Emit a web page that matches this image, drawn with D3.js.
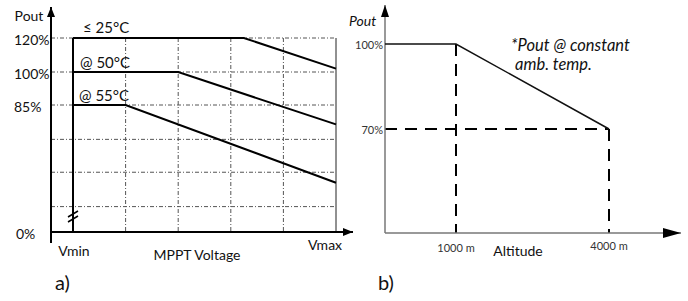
<!DOCTYPE html>
<html lang="en">
<head>
<meta charset="utf-8">
<title>Derating curves</title>
<script src="https://cdn.jsdelivr.net/npm/d3@7"></script>
<style>
  body { margin: 0; background: #fff; }
  text { font-family: Lato, "Open Sans", sans-serif; fill: #111; }
</style>
</head>
<body>
<script>
// ---- data, panel a (MPPT voltage, as fraction Vmin..Vmax) ----
var gridV = [0.2, 0.4, 0.6, 0.8];
var gridP = [120, 100, 85, 62, 40, 17];
var tickP = [120, 100, 85, 0];
var tickPLabels = ["120%", "100%", "85%", "0%"];
var curveNames = ["\u2264 25\u00B0C", "@ 50\u00B0C", "@ 55\u00B0C"];
var curve25 = [[0, 120], [0.65, 120], [1, 102]];
var curve50 = [[0, 100], [0.4, 100], [1, 72]];
var curve55 = [[0, 85], [0.2, 85], [1, 33]];

// ---- data, panel b (altitude) ----
var altTicks = [1000, 4000];
var altLabels = ["1000 m", "4000 m"];
var pTicksB = [100, 70];
var pLabelsB = ["100%", "70%"];
var curveAlt = [[0, 100], [1000, 100], [4000, 70]];

var svg = d3.select("body").append("svg")
  .attr("width", 688).attr("height", 301);

var defs = svg.append("defs");
defs.append("marker").attr("id", "arr")
  .attr("viewBox", "0 0 10 10").attr("refX", 10).attr("refY", 5)
  .attr("markerWidth", 10).attr("markerHeight", 10)
  .attr("markerUnits", "userSpaceOnUse")
  .attr("orient", "auto")
  .append("path").attr("d", "M0,1L10,5L0,9Z").attr("fill", "#000");
defs.append("marker").attr("id", "arrB")
  .attr("viewBox", "0 0 18 10").attr("refX", 18).attr("refY", 5)
  .attr("markerWidth", 18).attr("markerHeight", 10)
  .attr("markerUnits", "userSpaceOnUse")
  .attr("orient", "auto")
  .append("path").attr("d", "M0,0L18,5L0,10Z").attr("fill", "#000");
defs.append("marker").attr("id", "arrBy")
  .attr("viewBox", "0 0 12 8").attr("refX", 12).attr("refY", 4)
  .attr("markerWidth", 12).attr("markerHeight", 8)
  .attr("markerUnits", "userSpaceOnUse")
  .attr("orient", "auto")
  .append("path").attr("d", "M0,0L12,4L0,8Z").attr("fill", "#000");

// ================= panel a =================
var xA = d3.scaleLinear().domain([0, 1]).range([73, 336]);
// schematic, non uniform percent axis
var yA = d3.scaleLinear().domain([0, 85, 100, 120]).range([232, 105, 72, 38]);
var axisXA = 51;

var a = svg.append("g");

// grid (dash-dot)
a.selectAll(".gh").data(gridP).enter().append("line")
  .attr("x1", axisXA).attr("x2", xA(1))
  .attr("y1", d => yA(d)).attr("y2", d => yA(d))
  .attr("stroke", "#555").attr("stroke-width", 1)
  .attr("stroke-dasharray", "4,2,1,2");
a.selectAll(".gv").data(gridV).enter().append("line")
  .attr("x1", d => xA(d)).attr("x2", d => xA(d))
  .attr("y1", yA(120)).attr("y2", yA(0))
  .attr("stroke", "#555").attr("stroke-width", 1)
  .attr("stroke-dasharray", "4,2,1,2");

// right edge at Vmax
a.append("line")
  .attr("x1", xA(1)).attr("x2", xA(1))
  .attr("y1", yA(120)).attr("y2", yA(0))
  .attr("stroke", "#222").attr("stroke-width", 1);

// Vmin line
a.append("line")
  .attr("x1", xA(0)).attr("x2", xA(0))
  .attr("y1", yA(120)).attr("y2", yA(0))
  .attr("stroke", "#000").attr("stroke-width", 2);
// break mark
[0, 5].forEach(function(off) {
  a.append("line")
    .attr("x1", xA(0) - 5).attr("y1", 222 - off)
    .attr("x2", xA(0) + 5).attr("y2", 216 - off)
    .attr("stroke", "#000").attr("stroke-width", 1.5);
});

// axes
a.append("line")
  .attr("x1", axisXA).attr("y1", 243).attr("x2", axisXA).attr("y2", 7)
  .attr("stroke", "#000").attr("stroke-width", 2)
  .attr("marker-end", "url(#arr)");
a.append("line")
  .attr("x1", axisXA).attr("y1", yA(0)).attr("x2", 353).attr("y2", yA(0))
  .attr("stroke", "#000").attr("stroke-width", 2)
  .attr("marker-end", "url(#arr)");

// curves
var lineA = d3.line().x(d => xA(d[0])).y(d => yA(d[1]));
[curve25, curve50, curve55].forEach(function(c) {
  a.append("path").datum(c).attr("d", lineA)
    .attr("fill", "none").attr("stroke", "#000").attr("stroke-width", 2);
});

// curve labels
var labelY = [27, 62, 95];
var labelX = [83, 80, 79];
a.selectAll(".cl").data(curveNames).enter().append("text")
  .attr("x", (d, i) => labelX[i]).attr("y", (d, i) => labelY[i])
  .attr("dominant-baseline", "central")
  .attr("font-size", 15).text(d => d);

// y tick labels
a.selectAll(".yt").data(tickP).enter().append("text")
  .attr("x", d => d === 0 ? 16 : 14).attr("y", d => yA(d) + 1)
  .attr("dominant-baseline", "central")
  .attr("font-size", 14).text((d, i) => tickPLabels[i]);

a.append("text").attr("x", 29).attr("y", 15)
  .attr("text-anchor", "middle").attr("dominant-baseline", "central")
  .attr("font-size", 14).text("Pout");
a.append("text").attr("x", xA(0) + 1).attr("y", 250)
  .attr("text-anchor", "middle").attr("dominant-baseline", "central")
  .attr("font-size", 14).text("Vmin");
a.append("text").attr("x", 197).attr("y", 254)
  .attr("text-anchor", "middle").attr("dominant-baseline", "central")
  .attr("font-size", 14).text("MPPT Voltage");
a.append("text").attr("x", 325).attr("y", 244)
  .attr("text-anchor", "middle").attr("dominant-baseline", "central")
  .attr("font-size", 14).text("Vmax");
a.append("text").attr("x", 55).attr("y", 282)
  .attr("dominant-baseline", "central")
  .attr("font-size", 20).text("a)");

// ================= panel b =================
var xB = d3.scaleLinear().domain([0, 1000, 4000]).range([385, 456, 609]);
var yB = d3.scaleLinear().domain([0, 70, 100]).range([233, 129, 44]);

var b = svg.append("g");

// dashed guides
var dashed = [
  [[1000, 100], [1000, 0]],
  [[0, 70], [4000, 70]],
  [[4000, 70], [4000, 0]]
];
var lineB = d3.line().x(d => xB(d[0])).y(d => yB(d[1]));
dashed.forEach(function(seg) {
  b.append("path").datum(seg).attr("d", lineB)
    .attr("fill", "none").attr("stroke", "#000").attr("stroke-width", 2)
    .attr("stroke-dasharray", "12,8");
});

// axes
b.append("line")
  .attr("x1", xB(0)).attr("y1", yB(0)).attr("x2", xB(0)).attr("y2", 5)
  .attr("stroke", "#777").attr("stroke-width", 1.5)
  .attr("marker-end", "url(#arrBy)");
b.append("line")
  .attr("x1", xB(0)).attr("y1", yB(0)).attr("x2", 681).attr("y2", yB(0))
  .attr("stroke", "#777").attr("stroke-width", 1.5)
  .attr("marker-end", "url(#arrB)");

// curve
b.append("path").datum(curveAlt).attr("d", lineB)
  .attr("fill", "none").attr("stroke", "#111").attr("stroke-width", 1.5);

// tick labels
b.selectAll(".xt").data(altTicks).enter().append("text")
  .attr("x", d => xB(d)).attr("y", (d, i) => i === 0 ? 247 : 245)
  .attr("text-anchor", "middle").attr("dominant-baseline", "central")
  .attr("font-size", 11).style("fill", "#333")
  .text((d, i) => altLabels[i]);
b.selectAll(".yt").data(pTicksB).enter().append("text")
  .attr("x", xB(0) - 2).attr("y", d => yB(d))
  .attr("text-anchor", "end").attr("dominant-baseline", "central")
  .attr("font-size", 11).style("fill", "#333")
  .text((d, i) => pLabelsB[i]);

b.append("text").attr("x", 349).attr("y", 20)
  .attr("dominant-baseline", "central").attr("font-style", "italic")
  .attr("font-size", 14).text("Pout");
b.append("text").attr("x", 518).attr("y", 250)
  .attr("text-anchor", "middle").attr("dominant-baseline", "central")
  .attr("font-size", 14).text("Altitude");
b.append("text").attr("x", 511).attr("y", 45)
  .attr("dominant-baseline", "central").attr("font-style", "italic")
  .attr("font-size", 16.5).text("*Pout @ constant");
b.append("text").attr("x", 515).attr("y", 64)
  .attr("dominant-baseline", "central").attr("font-style", "italic")
  .attr("font-size", 16.5).text("amb. temp.");
b.append("text").attr("x", 378).attr("y", 282)
  .attr("dominant-baseline", "central")
  .attr("font-size", 20).text("b)");
</script>
</body>
</html>
